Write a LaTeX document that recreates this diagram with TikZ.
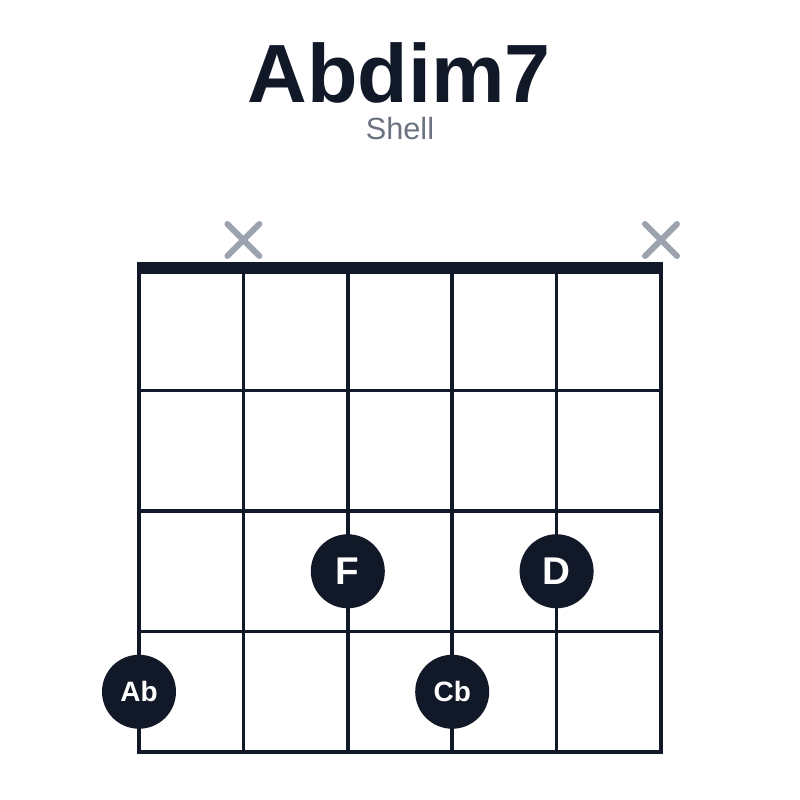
\documentclass[tikz,border=0pt]{standalone}
\usepackage{fontspec}
\setmainfont{Liberation Sans}
\usetikzlibrary{positioning}
\definecolor{ink}{HTML}{111827}
\definecolor{muted}{HTML}{9CA3AF}
\definecolor{subtle}{HTML}{6B7280}
\tikzstyle{string}=[line width=2.7pt,ink]
\tikzstyle{fret}=[line width=2.7pt,ink]
\tikzstyle{nut}=[fill=ink]
\tikzstyle{finger}=[circle,fill=ink,text=white,minimum size=55.5pt,inner sep=0pt,font=\bfseries\fontsize{29}{29}\selectfont]
\tikzstyle{finger2}=[finger,font=\bfseries\fontsize{21}{21}\selectfont]
\tikzstyle{mute}=[line width=4.5pt,muted,line cap=round]
\def\S{104.4}
\def\F{120.5}
\def\X{16}

\begin{document}
\begin{tikzpicture}[x=0.75pt,y=-0.75pt]
  \useasboundingbox (0,0) rectangle (800,800);

  % TITLE
  \node[anchor=base,inner sep=0pt,text depth=0pt,text=ink,font=\bfseries\fontsize{62}{62}\selectfont] (title) at (399,102) {Abdim7};
  \node[anchor=base,inner sep=0pt,text height=17pt,text=subtle,font=\fontsize{23}{23}\selectfont] (shape) at (400,139) {Shell};

  % GRID
  \foreach \k in {1,...,4}
    \draw[fret] (137,270+\k*\F) -- (663,270+\k*\F);
  \foreach \i in {0,...,5}
    \draw[string] (139+\i*\S,268) -- (139+\i*\S,753);
  \fill[nut] (137,262) rectangle (663,274);

  % MUTED STRINGS
  \coordinate (m2) at (139+\S,240);
  \coordinate (m6) at (661,240);
  \foreach \m in {m2,m6} {
    \draw[mute] (\m)++(-\X,-\X) --++ (2*\X,2*\X);
    \draw[mute] (\m)++(-\X,\X) --++ (2*\X,-2*\X);
  }

  % FINGERS
  \node[finger] (F) at (139+2*\S,270+2.5*\F) {F};
  \node[finger] (D) at (139+4*\S,270+2.5*\F) {D};
  \node[finger2] (Ab) at (139,270+3.5*\F) {Ab};
  \node[finger2] (Cb) at (139+3*\S,270+3.5*\F) {Cb};

\end{tikzpicture}
\end{document}
